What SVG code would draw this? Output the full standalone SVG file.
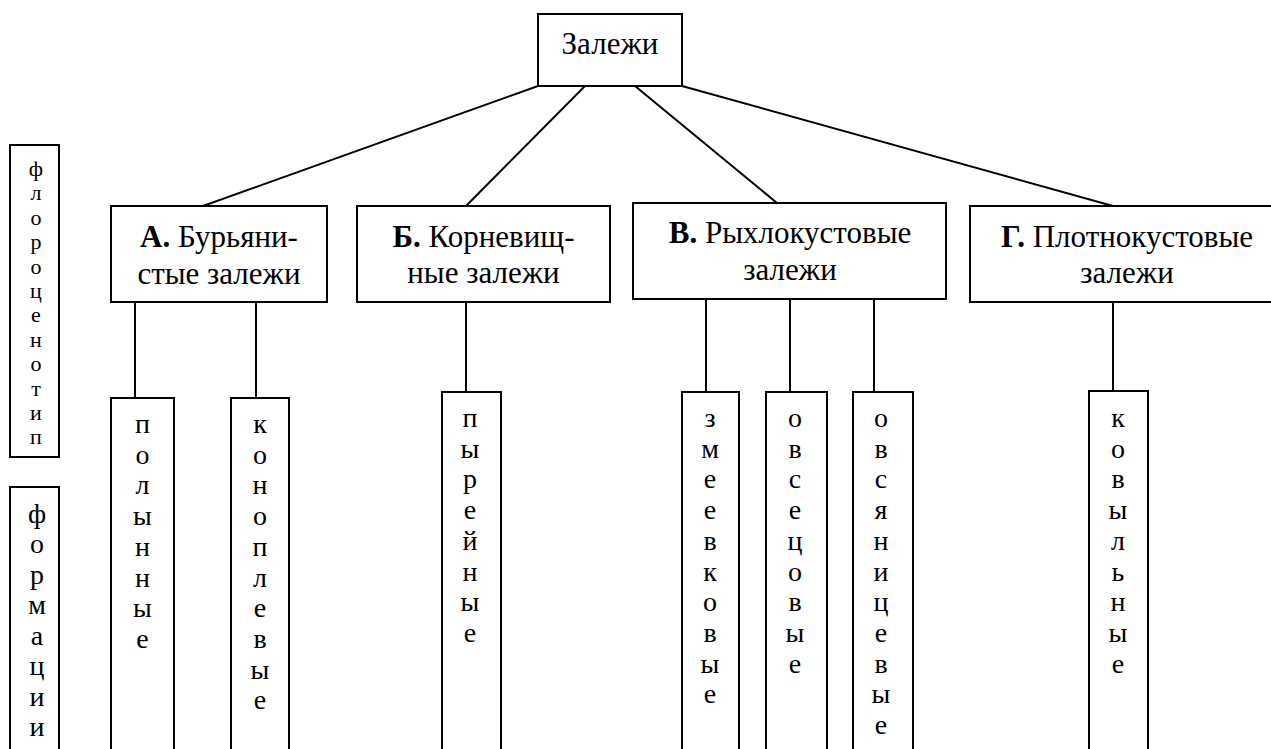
<svg xmlns="http://www.w3.org/2000/svg" width="1271" height="749" viewBox="0 0 1271 749">
<style>
.box{fill:#fff;stroke:#000;stroke-width:2}
.ln{stroke:#000;stroke-width:2;fill:none}
text{font-family:'Liberation Serif','DejaVu Serif Condensed','DejaVu Serif',serif;fill:#000;text-anchor:middle}
.h{font-size:31px}
.b{font-weight:bold}
.c{font-size:28px}
.s{font-size:22px}
</style>
<rect width="1271" height="749" fill="#fff"/>
<g id="connectors">
<line class="ln" x1="538" y1="86" x2="203" y2="206"/>
<line class="ln" x1="585" y1="86" x2="466" y2="206"/>
<line class="ln" x1="635" y1="86" x2="777" y2="203"/>
<line class="ln" x1="682" y1="86" x2="1113" y2="206"/>
<line class="ln" x1="135" y1="302" x2="135" y2="398"/>
<line class="ln" x1="256" y1="302" x2="256" y2="398"/>
<line class="ln" x1="466" y1="302" x2="466" y2="392"/>
<line class="ln" x1="706" y1="299" x2="706" y2="392"/>
<line class="ln" x1="790" y1="299" x2="790" y2="392"/>
<line class="ln" x1="874" y1="299" x2="874" y2="392"/>
<line class="ln" x1="1113" y1="302" x2="1113" y2="391"/>
</g>
<g id="root">
<rect class="box" x="538" y="14" width="144" height="72"/>
<text class="h" x="610" y="54">Залежи</text>
</g>
<g id="nodeA">
<rect class="box" x="111" y="206" width="216" height="96"/>
<text class="h" x="219" y="247"><tspan class="b">А.</tspan> Бурьяни-</text>
<text class="h" x="219" y="284">стые залежи</text>
</g>
<g id="nodeB">
<rect class="box" x="357" y="206" width="253" height="96"/>
<text class="h" x="483.5" y="247"><tspan class="b">Б.</tspan> Корневищ-</text>
<text class="h" x="483.5" y="283">ные залежи</text>
</g>
<g id="nodeV">
<rect class="box" x="633" y="203" width="313" height="96"/>
<text class="h" x="790" y="243"><tspan class="b">В.</tspan> Рыхлокустовые</text>
<text class="h" x="790" y="280">залежи</text>
</g>
<g id="nodeG">
<rect class="box" x="970" y="206" width="330" height="96"/>
<text class="h" x="1127" y="247"><tspan class="b">Г.</tspan> Плотнокустовые</text>
<text class="h" x="1127" y="283">залежи</text>
</g>
<g id="florocenotip">
<rect class="box" x="10" y="145" width="49" height="312"/>
<text class="s"><tspan x="36" y="176">ф</tspan><tspan x="36" dy="24.4">л</tspan><tspan x="36" dy="24.4">о</tspan><tspan x="36" dy="24.4">р</tspan><tspan x="36" dy="24.4">о</tspan><tspan x="36" dy="24.4">ц</tspan><tspan x="36" dy="24.4">е</tspan><tspan x="36" dy="24.4">н</tspan><tspan x="36" dy="24.4">о</tspan><tspan x="36" dy="24.4">т</tspan><tspan x="36" dy="24.4">и</tspan><tspan x="36" dy="24.4">п</tspan></text>
</g>
<g id="formacii">
<rect class="box" x="10" y="487" width="49" height="280"/>
<text class="c"><tspan x="37" y="522.5">ф</tspan><tspan x="37" dy="30.5">о</tspan><tspan x="37" dy="30.5">р</tspan><tspan x="37" dy="30.5">м</tspan><tspan x="37" dy="30.5">а</tspan><tspan x="37" dy="30.5">ц</tspan><tspan x="37" dy="30.5">и</tspan><tspan x="37" dy="30.5">и</tspan></text>
</g>
<g id="polynnye">
<rect class="box" x="111" y="398" width="63" height="370"/>
<text class="c"><tspan x="142.5" y="433">п</tspan><tspan x="142.5" dy="30.7">о</tspan><tspan x="142.5" dy="30.7">л</tspan><tspan x="142.5" dy="30.7">ы</tspan><tspan x="142.5" dy="30.7">н</tspan><tspan x="142.5" dy="30.7">н</tspan><tspan x="142.5" dy="30.7">ы</tspan><tspan x="142.5" dy="30.7">е</tspan></text>
</g>
<g id="konoplevye">
<rect class="box" x="231" y="398" width="58" height="370"/>
<text class="c"><tspan x="260" y="433">к</tspan><tspan x="260" dy="30.7">о</tspan><tspan x="260" dy="30.7">н</tspan><tspan x="260" dy="30.7">о</tspan><tspan x="260" dy="30.7">п</tspan><tspan x="260" dy="30.7">л</tspan><tspan x="260" dy="30.7">е</tspan><tspan x="260" dy="30.7">в</tspan><tspan x="260" dy="30.7">ы</tspan><tspan x="260" dy="30.7">е</tspan></text>
</g>
<g id="pyreynye">
<rect class="box" x="442" y="392" width="59" height="376"/>
<text class="c"><tspan x="470" y="427">п</tspan><tspan x="470" dy="30.7">ы</tspan><tspan x="470" dy="30.7">р</tspan><tspan x="470" dy="30.7">е</tspan><tspan x="470" dy="30.7">й</tspan><tspan x="470" dy="30.7">н</tspan><tspan x="470" dy="30.7">ы</tspan><tspan x="470" dy="30.7">е</tspan></text>
</g>
<g id="zmeevkovye">
<rect class="box" x="682" y="392" width="57" height="376"/>
<text class="c"><tspan x="710" y="427">з</tspan><tspan x="710" dy="30.7">м</tspan><tspan x="710" dy="30.7">е</tspan><tspan x="710" dy="30.7">е</tspan><tspan x="710" dy="30.7">в</tspan><tspan x="710" dy="30.7">к</tspan><tspan x="710" dy="30.7">о</tspan><tspan x="710" dy="30.7">в</tspan><tspan x="710" dy="30.7">ы</tspan><tspan x="710" dy="30.7">е</tspan></text>
</g>
<g id="ovsecovye">
<rect class="box" x="766" y="392" width="61" height="376"/>
<text class="c"><tspan x="795" y="427">о</tspan><tspan x="795" dy="30.7">в</tspan><tspan x="795" dy="30.7">с</tspan><tspan x="795" dy="30.7">е</tspan><tspan x="795" dy="30.7">ц</tspan><tspan x="795" dy="30.7">о</tspan><tspan x="795" dy="30.7">в</tspan><tspan x="795" dy="30.7">ы</tspan><tspan x="795" dy="30.7">е</tspan></text>
</g>
<g id="ovsyanicevye">
<rect class="box" x="853" y="392" width="60" height="376"/>
<text class="c"><tspan x="881" y="427">о</tspan><tspan x="881" dy="30.7">в</tspan><tspan x="881" dy="30.7">с</tspan><tspan x="881" dy="30.7">я</tspan><tspan x="881" dy="30.7">н</tspan><tspan x="881" dy="30.7">и</tspan><tspan x="881" dy="30.7">ц</tspan><tspan x="881" dy="30.7">е</tspan><tspan x="881" dy="30.7">в</tspan><tspan x="881" dy="30.7">ы</tspan><tspan x="881" dy="30.7">е</tspan></text>
</g>
<g id="kovylnye">
<rect class="box" x="1089" y="391" width="59" height="377"/>
<text class="c"><tspan x="1118" y="427">к</tspan><tspan x="1118" dy="30.7">о</tspan><tspan x="1118" dy="30.7">в</tspan><tspan x="1118" dy="30.7">ы</tspan><tspan x="1118" dy="30.7">л</tspan><tspan x="1118" dy="30.7">ь</tspan><tspan x="1118" dy="30.7">н</tspan><tspan x="1118" dy="30.7">ы</tspan><tspan x="1118" dy="30.7">е</tspan></text>
</g>
</svg>
